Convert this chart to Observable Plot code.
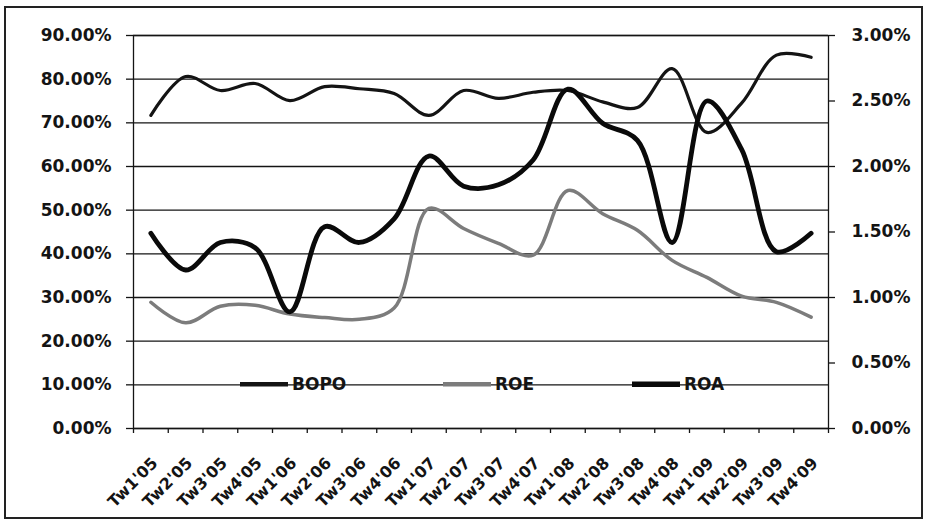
<!DOCTYPE html>
<html><head><meta charset="utf-8">
<script src="https://cdn.jsdelivr.net/npm/d3@7"></script>
<script src="https://cdn.jsdelivr.net/npm/@observablehq/plot@0.6"></script>
<style>
body{margin:0;background:#fff;}
#chart{position:relative;width:925px;height:523px;}
</style></head><body><div id="chart"></div>
<script>
const quarters = ["Tw1'05","Tw2'05","Tw3'05","Tw4'05","Tw1'06","Tw2'06","Tw3'06","Tw4'06","Tw1'07","Tw2'07","Tw3'07","Tw4'07","Tw1'08","Tw2'08","Tw3'08","Tw4'08","Tw1'09","Tw2'09","Tw3'09","Tw4'09"];
// left axis (%)
const bopo = [71.7,80.6,77.4,79.0,75.1,78.3,77.8,76.7,71.7,77.4,75.6,77.0,77.4,74.8,73.5,82.4,67.8,74.5,85.5,85.0];
const roe  = [28.9,24.2,28.0,28.2,26.2,25.4,25.0,27.6,50.4,45.8,42.4,39.7,54.5,49.2,45.4,38.5,34.6,30.3,28.9,25.5];
// right axis (%)
const roa  = [1.49,1.21,1.42,1.38,0.89,1.54,1.42,1.60,2.08,1.85,1.86,2.05,2.59,2.33,2.20,1.42,2.50,2.13,1.35,1.49];
const leftTicks = [0,10,20,30,40,50,60,70,80,90];
const rightTicks = [0,0.5,1,1.5,2,2.5,3];
const seriesNames = ["BOPO","ROE","ROA"];

const ratio = leftTicks[leftTicks.length-1] / rightTicks[rightTicks.length-1];
const rows = quarters.map((q,i)=>({i, q, bopo:bopo[i], roe:roe[i], roa:roa[i]*ratio}));
const idx = quarters.map((q,i)=>i);
const bounds = d3.range(quarters.length+1).map(i=>i-0.5);
const ink = "#141414";

const plot = Plot.plot({
  width:925, height:523,
  marginLeft:133, marginRight:97, marginTop:35, marginBottom:95,
  style:{fontFamily:"DejaVu Sans", fontWeight:"bold", fontSize:"17px", color:ink, background:"transparent", overflow:"visible"},
  x:{type:"linear", domain:[-0.5, quarters.length-0.5]},
  y:{domain:[0, leftTicks[leftTicks.length-1]]},
  marks:[
    Plot.gridY(leftTicks,{stroke:ink, strokeOpacity:1, strokeWidth:1.3}),
    Plot.frame({stroke:ink, strokeWidth:1.3}),
    Plot.axisY(leftTicks,{anchor:"left", label:null, tickSize:7, tickPadding:15, strokeWidth:1.3, tickFormat:d=>d.toFixed(2)+"%"}),
    Plot.axisY(rightTicks.map(d=>d*ratio),{anchor:"right", label:null, tickSize:6, tickPadding:17, strokeWidth:1.3, tickFormat:d=>(d/ratio).toFixed(2)+"%"}),
    Plot.axisX(bounds,{anchor:"bottom", label:null, tickSize:5, strokeWidth:1.3, tickFormat:()=>""}),
    Plot.axisX(idx,{anchor:"bottom", label:null, tickSize:0, tickPadding:32, dx:4, tickRotate:-45, fontSize:16, tickFormat:i=>quarters[i]}),
    Plot.line(rows,{x:"i", y:"roe", stroke:"#7c7c7c", strokeWidth:3.5, curve:"catmull-rom"}),
    Plot.line(rows,{x:"i", y:"bopo", stroke:ink, strokeWidth:3.2, curve:"catmull-rom"}),
    Plot.line(rows,{x:"i", y:"roa", stroke:"#0a0a0a", strokeWidth:4.8, curve:"catmull-rom"})
  ]
});
document.getElementById("chart").appendChild(plot);

const svg = d3.select(plot);
svg.append("rect").attr("x",5).attr("y",7).attr("width",917).attr("height",511)
  .attr("fill","none").attr("stroke","#222").attr("stroke-width",2);
// legend
const ly = plot.scale("y").apply(10);
const legend = [
  {name:seriesNames[0], x:240, color:ink, w:4.5},
  {name:seriesNames[1], x:443, color:"#7c7c7c", w:4.5},
  {name:seriesNames[2], x:632, color:"#0a0a0a", w:5.5}
];
const g = svg.append("g").attr("text-anchor","start");
legend.forEach(d=>{
  g.append("line").attr("x1",d.x).attr("x2",d.x+48).attr("y1",ly).attr("y2",ly)
    .attr("stroke",d.color).attr("stroke-width",d.w);
  g.append("text").attr("x",d.x+52).attr("y",ly).attr("dy","0.36em").attr("text-anchor","start")
    .attr("font-size",17).attr("font-weight","bold").attr("fill",ink).text(d.name);
});
</script></body></html>
